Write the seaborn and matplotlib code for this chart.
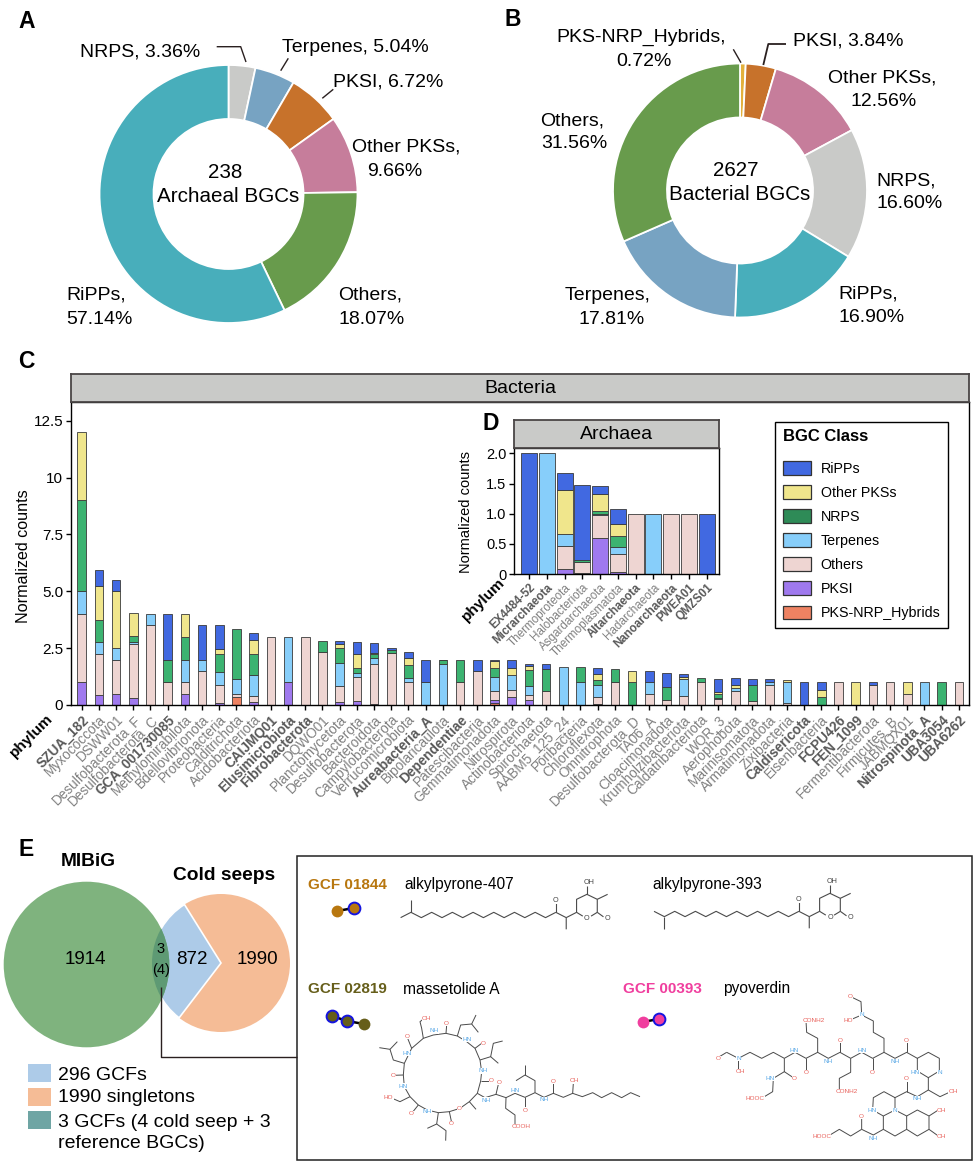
import numpy as np
import pandas as pd
import matplotlib
matplotlib.use("Agg")
import matplotlib.pyplot as plt
import seaborn as sns
from matplotlib.patches import Circle, Patch, Rectangle, Wedge

W, H = 973, 1169

# panel A / B donuts
a_classes = ["NRPS", "Terpenes", "PKSI", "Other PKSs", "Others", "RiPPs"]
a_shares = [3.36, 5.04, 6.72, 9.66, 18.07, 57.14]
b_classes = ["PKS-NRP_Hybrids", "PKSI", "Other PKSs", "NRPS", "RiPPs", "Terpenes", "Others"]
b_shares = [0.72, 3.84, 12.56, 16.60, 16.90, 17.81, 31.56]
donut_colors = {"NRPS": "#C9CAC8", "Terpenes": "#77A3C2", "PKSI": "#C7722B", "Other PKSs": "#C67D9B",
                "Others": "#689B4C", "RiPPs": "#48AEBB", "PKS-NRP_Hybrids": "#E3B13C"}

# panel C
bac_phyla = ["SZUA_182", "Myxococcota", "DSWW01", "Desulfobacterota_F", "Desulfobacterota_C", "GCA_001730085",
             "Methylomirabilota", "Bdellovibrionota", "Proteobacteria", "Calditrichota", "Acidobacteriota",
             "CAIJMQ01", "Elusimicrobiota", "Fibrobacterota", "DQWO01", "Planctomycetota", "Desulfobacterota",
             "Bacteroidota", "Campylobacterota", "Verrucomicrobiota", "Aureabacteria_A", "Bipolaricaulota",
             "Dependentiae", "Patescibacteria", "Gemmatimonadota", "Nitrospirota", "Actinobacteriota",
             "Spirochaetota", "AABM5_125_24", "Poribacteria", "Chloroflexota", "Omnitrophota",
             "Desulfobacterota_D", "TA06_A", "Cloacimonadota", "Krumholzibacteriota", "Caldatribacteriota",
             "WOR_3", "Aerophobota", "Marinisomatota", "Armatimonadota", "Zixibacteria", "Caldisericota",
             "Eisenbacteria", "FCPU426", "FEN_1099", "Fermentibacterota", "Firmicutes_B", "JABMQX01",
             "Nitrospinota_A", "UBA3054", "UBA6262"]
bac_bold = ["SZUA_182", "GCA_001730085", "CAIJMQ01", "Elusimicrobiota", "Fibrobacterota", "Aureabacteria_A",
            "Dependentiae", "Caldisericota", "FCPU426", "FEN_1099", "Nitrospinota_A", "UBA3054", "UBA6262"]
bac_ripps = [0, .7, .5, 0, 0, 2, 0, 1.5, 1.05, 0, .33, 0, 0, 0, 0, .13, .55, .45, .08, .25, 1, .03, 0, .5, .07, .33,
             .1, .22, 0, 0, .27, 0, 0, .5, .6, .13, 0, .6, .3, .3, .1, 0, 1, .35, 0, 0, .14, 0, 0, 0, 0, 0]
bac_other_pkss = [3, 1.5, 2.5, 1, 0, 0, 1, 0, .2, 0, .6, 0, 0, 0, 0, .2, .6, .06, .03, .33, 0, 0, 0, 0, .3, .33,
                  .15, 0, 0, 0, .27, 0, .5, 0, 0, .1, 0, .07, .15, 0, 0, .08, 0, .32, 0, 1, 0, 0, .5, 0, 0, 0]
bac_nrps = [4, 1, 0, .3, 0, 1, 1, 0, .8, 2.2, .93, 0, 0, 0, .5, .67, .25, .15, .1, .55, 0, .17, 1, 0, .4, 0,
            .72, 1, 0, .67, .23, .6, 1, 0, .6, 0, .2, .17, 0, .7, 0, 0, 0, .33, 0, 0, 0, 0, 0, 0, 1, 0]
bac_terpenes = [1, .5, .5, .05, .5, 0, 1, .5, .55, .67, .92, 0, 2, 0, 0, 1, .17, .28, 0, .2, 1, 1.8, 0, 0, .6, .65,
                .4, 0, 1.67, 1, .5, 0, 0, .5, 0, .75, 0, .06, .13, 0, .13, .92, 0, 0, 0, 0, 0, 0, 0, 1, 0, 0]
bac_others = [3, 1.8, 1.5, 2.4, 3.5, 1, .5, 1.5, .82, .15, .27, 3, 0, 3, 2.33, .7, 1.05, 1.76, 2.3, 1, 0, 0, 1, 1.5,
              .4, .33, .2, .6, 0, 0, .3, 1, 0, .5, .2, .4, 1, .25, .6, .16, .9, .1, 0, 0, 1, 0, .86, 1, .5, 0, 0, 1]
bac_pksi = [1, .45, .5, .3, 0, 0, .5, 0, .08, 0, .13, 0, 1, 0, 0, .13, .17, .04, 0, 0, 0, 0, 0, 0, .15, .33,
            .23, 0, 0, 0, .06, 0, 0, 0, 0, 0, 0, 0, 0, 0, 0, 0, 0, 0, 0, 0, 0, 0, 0, 0, 0, 0]
bac_hybrids = [0, 0, 0, 0, 0, 0, 0, 0, 0, .33, 0, 0, 0, 0, 0, 0, 0, 0, 0, 0, 0, 0, 0, 0, .08, 0,
               0, 0, 0, 0, 0, 0, 0, 0, 0, 0, 0, 0, 0, 0, 0, 0, 0, 0, 0, 0, 0, 0, 0, 0, 0, 0]

# panel D
arc_phyla = ["EX4484-52", "Micrarchaeota", "Thermoproteota", "Halobacteriota", "Asgardarchaeota",
             "Thermoplasmatota", "Altarchaeota", "Hadarchaeota", "Nanoarchaeota", "PWEA01", "QMZS01"]
arc_bold = ["EX4484-52", "Micrarchaeota", "Altarchaeota", "Nanoarchaeota", "PWEA01", "QMZS01"]
arc_ripps = [2, 0, .27, 1.25, .14, .25, 0, 0, 0, 0, 1]
arc_other_pkss = [0, 0, .73, 0, .28, .2, 0, 0, 0, 0, 0]
arc_nrps = [0, 0, 0, .03, .04, .19, 0, 0, 0, 0, 0]
arc_terpenes = [0, 2, .21, 0, .02, .1, 0, 1, 0, 0, 0]
arc_others = [0, 0, .38, .19, .38, .3, 1, 0, 1, 1, 0]
arc_pksi = [0, 0, .08, .01, .6, .04, 0, 0, 0, 0, 0]
arc_hybrids = [0, 0, 0, 0, 0, 0, 0, 0, 0, 0, 0]

class_order = ["RiPPs", "Other PKSs", "NRPS", "Terpenes", "Others", "PKSI", "PKS-NRP_Hybrids"]
bar_colors = {"RiPPs": "#4169E1", "Other PKSs": "#F0E68C", "NRPS": "#3CB371", "Terpenes": "#87CEFA",
              "Others": "#EED5D2", "PKSI": "#9F79EE", "PKS-NRP_Hybrids": "#EE8262"}
legend_colors = dict(bar_colors, NRPS="#2E8B57")

# panel E
venn_numbers = ["1914", "872", "1990", "3", "(4)"]
gcf_legend = ["296 GCFs", "1990 singletons", "3 GCFs (4 cold seep + 3\nreference BGCs)"]

sns.set_theme(style="ticks")
plt.rcParams["font.family"] = ["Liberation Sans", "DejaVu Sans"]
plt.rcParams["axes.linewidth"] = 1.0
plt.rcParams["text.color"] = "black"
plt.rcParams["axes.labelcolor"] = "black"
plt.rcParams["xtick.color"] = "black"
plt.rcParams["ytick.color"] = "black"

fig = plt.figure(figsize=(W / 100, H / 100), dpi=100)


def px_axes(left, top, right, bottom, **kw):
    return fig.add_axes([left / W, 1 - bottom / H, (right - left) / W, (bottom - top) / H], **kw)


def donut(cx, cy, r, hole, classes, shares):
    ax = px_axes(cx - r, cy - r, cx + r, cy + r)
    ax.pie(shares, colors=[donut_colors[c] for c in classes], startangle=90, counterclock=False, radius=1,
           normalize=True, wedgeprops={"width": 1 - hole / r, "edgecolor": "white", "linewidth": 1.3})
    ax.set_xlim(-1, 1)
    ax.set_ylim(-1, 1)


def stacked(ax, phyla, bold, columns, shrink, xlim, ymax, yticks, yticklabels, ysize, xsize):
    table = pd.DataFrame(columns)
    table.insert(0, "phylum", phyla)
    long_df = table.melt(id_vars="phylum", var_name="bgc", value_name="value")
    sns.histplot(data=long_df, x="phylum", weights="value", hue="bgc", hue_order=class_order, multiple="stack",
                 discrete=True, shrink=shrink, palette=bar_colors, alpha=1, edgecolor="#3a3a3a", linewidth=0.6,
                 legend=False, ax=ax)
    for p in list(ax.patches):
        if p.get_height() <= 0:
            p.remove()
    ax.set_xlim(*xlim)
    ax.set_ylim(0, ymax)
    ax.set_yticks(yticks)
    ax.set_yticklabels(yticklabels, fontsize=ysize)
    ax.set_xticks(range(len(phyla)))
    ax.set_xticklabels(phyla, rotation=45, ha="right", rotation_mode="anchor", fontsize=xsize, color="#808080")
    for lab, name in zip(ax.get_xticklabels(), phyla):
        if name in bold:
            lab.set_fontweight("bold")
            lab.set_color("#595959")
    ax.tick_params(axis="both", length=3.5, width=1, color="black", pad=2)
    ax.set_xlabel("")
    for s in ax.spines.values():
        s.set_visible(True)
        s.set_color("black")
        s.set_linewidth(1.0)


def strip(left, top, right, bottom, title):
    ax = px_axes(left, top, right, bottom, facecolor="#C9CAC8")
    ax.set_xticks([])
    ax.set_yticks([])
    for s in ax.spines.values():
        s.set_color("#4a4646")
        s.set_linewidth(1.3)
    ax.text(0.5, 0.47, title, transform=ax.transAxes, ha="center", va="center", fontsize=14)


donut(228.5, 194, 129, 75, a_classes, a_shares)
donut(740, 190.5, 127, 73, b_classes, b_shares)

ax_c = px_axes(71, 402, 969, 705)
stacked(ax_c, bac_phyla, bac_bold,
        {"RiPPs": bac_ripps, "Other PKSs": bac_other_pkss, "NRPS": bac_nrps, "Terpenes": bac_terpenes,
         "Others": bac_others, "PKSI": bac_pksi, "PKS-NRP_Hybrids": bac_hybrids},
        0.5, (-0.62, 51.59), 13.32, [0, 2.5, 5, 7.5, 10, 12.5], ["0", "2.5", "5.0", "7.5", "10", "12.5"], 11, 9.8)
ax_c.set_ylabel("Normalized counts", fontsize=11.6)
ax_c.yaxis.set_label_coords((31 - 71) / 898, (705 - 556) / 303)
strip(71, 374, 969, 402, "Bacteria")

ax_d = px_axes(514, 448, 719, 574)
stacked(ax_d, arc_phyla, arc_bold,
        {"RiPPs": arc_ripps, "Other PKSs": arc_other_pkss, "NRPS": arc_nrps, "Terpenes": arc_terpenes,
         "Others": arc_others, "PKSI": arc_pksi, "PKS-NRP_Hybrids": arc_hybrids},
        0.9, (-0.85, 10.7), 2.09, [0, 0.5, 1, 1.5, 2], ["0", "0.5", "1.0", "1.5", "2.0"], 10.5, 8.4)
ax_d.set_ylabel("Normalized counts", fontsize=10.5)
ax_d.yaxis.set_label_coords((473 - 514) / 205, (574 - 512) / 126)
strip(514, 420, 719, 448, "Archaea")

handles = [Patch(facecolor=legend_colors[c], edgecolor="#333333", linewidth=0.9, label=c) for c in class_order]
leg = fig.legend(handles=handles, title="BGC Class", loc="upper left", bbox_to_anchor=(775 / W, 1 - 421.5 / H),
                 borderaxespad=0, fontsize=10.3, frameon=True, fancybox=False, edgecolor="black", facecolor="white",
                 framealpha=1, handlelength=2.0, handleheight=1.08, labelspacing=0.66, handletextpad=0.65,
                 borderpad=0.55, alignment="left", title_fontproperties={"weight": "bold", "size": 12})
leg.get_frame().set_linewidth(1.0)
leg._legend_box.sep = 12

# everything placed by hand goes on one overlay in image pixels
ov = fig.add_axes([0, 0, 1, 1], facecolor="none")
ov.set_xlim(0, W)
ov.set_ylim(H, 0)
ov.axis("off")


def put(x, y, s, size=14, ha="left", va="center", **kw):
    ov.text(x, y, s, fontsize=size, ha=ha, va=va, **kw)


def line(xs, ys, color="#2a2020", lw=1.0, **kw):
    ov.plot(xs, ys, color=color, lw=lw, solid_capstyle="butt", **kw)


for x, y, s in [(18, 21, "A"), (504, 20, "B"), (18, 362, "C"), (483, 423, "D"), (18, 850, "E")]:
    put(x, y, s, size=16.5, fontweight="bold")

for x, y, s in [(51, 716, "phylum"), (503, 580, "phylum")]:
    ov.text(x, y, s, fontsize=11, fontweight="bold", rotation=45, ha="right", va="center", rotation_mode="anchor")

for x, y, s in [(80, 51.6, "NRPS, 3.36%"), (281.7, 48, "Terpenes, 5.04%"), (333, 82, "PKSI, 6.72%"),
                (351.7, 147, "Other PKSs,"), (366.7, 172, "9.66%"), (66, 295, "RiPPs,"), (66, 319, "57.14%"),
                (338, 295, "Others,"), (338.5, 319, "18.07%"),
                (556, 37, "PKS-NRP_Hybrids,"), (616.7, 61, "0.72%"), (792.7, 40.7, "PKSI, 3.84%"),
                (828, 78, "Other PKSs,"), (850.7, 101, "12.56%"), (876.7, 181, "NRPS,"), (876.7, 204, "16.60%"),
                (838, 294, "RiPPs,"), (838, 317, "16.90%"), (565, 295, "Terpenes,"), (578, 319, "17.81%"),
                (540, 121, "Others,"), (541.7, 144, "31.56%")]:
    put(x, y, s)
for x, y, s in [(225, 172, "238"), (228, 197, "Archaeal BGCs"), (736, 171, "2627"), (740, 195, "Bacterial BGCs")]:
    put(x, y, s, size=14.9, ha="center")

line([216.7, 240.7, 246], [46.7, 46.7, 62])
line([288.3, 280.7], [58.3, 70.7])
line([333.3, 322.3], [89.3, 98.3])
line([733.3, 741], [49.3, 62.7], lw=1.0)
line([786, 768.3, 763.3], [44, 44, 65], lw=1.3)

# venn
cold = (221, 963, 69)
mibig = (86.5, 964.5, 82.8)
ov.add_patch(Circle(cold[:2], cold[2], facecolor="#F5BC96", edgecolor="none"))
ov.add_patch(Wedge(cold[:2], cold[2], 180 - 52.6, 180 + 58, facecolor="#ADCBE8", edgecolor="white", linewidth=1.2))
mibig_patch = Circle(mibig[:2], mibig[2], facecolor="#7FB37E", edgecolor="none")
ov.add_patch(mibig_patch)
lens = Circle(cold[:2], cold[2], facecolor="#5E9A74", edgecolor="none")
ov.add_patch(lens)
lens.set_clip_path(mibig_patch)
for (x, y), s, size in zip([(85, 959), (192, 959), (257, 960), (160.7, 949), (160.7, 970)], venn_numbers,
                           [13.5, 13.5, 13.5, 10.5, 10.5]):
    put(x, y, s, size=size, ha="center")
put(88, 861, "MIBiG", size=13.8, ha="center", fontweight="bold")
put(224, 875, "Cold seeps", size=13.8, ha="center", fontweight="bold")
line([160.7, 160.7, 297], [987, 1057, 1057], lw=1.0)

for y0, c in zip([1064, 1088, 1111], ["#ADCBE8", "#F5BC96", "#6FA5A4"]):
    ov.add_patch(Rectangle((28, y0), 23, 17.5, facecolor=c, edgecolor="none"))
put(58, 1075, gcf_legend[0], size=14)
put(58, 1098, gcf_legend[1], size=14)
put(58, 1133, gcf_legend[2], size=14, linespacing=1.35)

# structures box
ov.add_patch(Rectangle((297, 856), 675, 304, facecolor="none", edgecolor="#222222", linewidth=1.1))
for x, y, s, c in [(308, 885, "GCF 01844", "#B8770F"), (308, 989, "GCF 02819", "#665E1A"),
                   (623, 989, "GCF 00393", "#F03E9E")]:
    put(x, y, s, size=11, color=c, fontweight="bold")
for x, y, s in [(404, 885, "alkylpyrone-407"), (652, 885, "alkylpyrone-393"), (403, 989, "massetolide A"),
                (723, 989, "pyoverdin")]:
    put(x, y, s, size=11.2)


def gcf_nodes(xs, ys, color, ringed):
    line(xs, ys, color="black", lw=1.8)
    for x, y, r in zip(xs, ys, ringed):
        ov.plot(x, y, "o", ms=8.5, mfc=color, mec="#1414e0" if r else color, mew=1.4 if r else 0)


gcf_nodes([337, 354], [911, 908], "#B8770F", [False, True])
gcf_nodes([332, 347, 364], [1016, 1021, 1024], "#665E1A", [True, True, False])
gcf_nodes([643, 658.5], [1022, 1019], "#F03E9E", [False, True])


def bonds(x0, y0, scale, paths, lw=0.7):
    for p in paths:
        p = np.array(p, dtype=float)
        line(x0 + p[:, 0] * scale, y0 + p[:, 1] * scale, color="#4a4a4a", lw=lw)


def atoms(x0, y0, scale, labels, size=4.6):
    for x, y, s, c in labels:
        ov.text(x0 + x * scale, y0 + y * scale, s, fontsize=size, color=c, ha="center", va="center",
                bbox={"facecolor": "white", "edgecolor": "none", "pad": 0.2})


RED = "#E8605A"
BLUE = "#5AA9E6"
GREY = "#444444"


def alkylpyrone(x0, y0, n, branch_down):
    # zigzag tail ending at the ketone carbon, drawn back from the pyrone
    step = 10.35
    xs = [-step * k for k in range(n)][::-1]
    ys = [0 if (n - 1 - k) % 2 == 0 else 5.3 for k in range(n)]
    pts = list(zip(xs, ys))
    bx, by = pts[1]
    tip = by + 12 if branch_down else by - 12
    paths = [pts, [(bx, by), (bx, tip)], [(0, 0), (0, -9)], [(0, 0), (step, 5.3), (step, 17)],
             [(step, 5.3), (2 * step, 0), (2 * step, -13), (3 * step, -18), (4 * step, -13), (4 * step, 0),
              (3.4 * step, 3.8)], [(2 * step, 0), (2.6 * step, 3.8)], [(4 * step, 0), (4.6 * step, 4.5)],
             [(4 * step, -13), (5 * step, -18)], [(3 * step, -18), (3 * step, -26)]]
    bonds(x0, y0, 1, paths, lw=0.8)
    atoms(x0, y0, 1, [(0, -12, "O", GREY), (3 * step, 6, "O", GREY), (5 * step, 6, "O", GREY),
                      (3.2 * step, -30, "OH", GREY)], size=5.2)


alkylpyrone(295 + 600 / 2.3, 850 + 187 / 3, 16, False)
alkylpyrone(295 + 1159 / 2.3, 850 + 184 / 3, 15, True)

massetolide = [
    [(160, 115), (190, 105), (228, 100), (262, 108), (290, 125), (315, 145), (330, 180), (335, 215), (332, 243),
     (322, 280), (298, 305), (270, 325), (238, 335), (205, 338), (172, 330), (145, 315), (120, 290), (103, 260),
     (100, 225), (103, 190), (125, 145), (160, 115)],
    [(160, 115), (155, 85), (150, 65), (163, 55)], [(125, 145), (113, 115)],
    [(262, 108), (272, 75), (305, 72), (318, 45)], [(305, 72), (325, 97)], [(228, 100), (230, 75)],
    [(315, 145), (335, 130)], [(330, 180), (362, 170), (370, 130), (398, 123)], [(362, 170), (385, 190)],
    [(332, 243), (360, 243)],
    [(322, 280), (345, 293), (378, 283), (408, 293), (435, 280), (465, 292), (495, 278), (522, 292), (550, 280),
     (580, 292), (608, 280), (637, 290), (668, 278), (695, 293), (725, 278), (755, 293), (782, 278), (810, 290)],
    [(378, 283), (385, 253)], [(408, 293), (407, 325), (435, 345), (435, 375)], [(465, 292), (465, 322)],
    [(495, 278), (495, 242), (465, 225), (438, 242)], [(465, 225), (465, 195)], [(550, 280), (550, 250)],
    [(608, 280), (610, 250)], [(298, 305), (318, 328)], [(103, 190), (70, 180), (60, 148), (28, 143)],
    [(60, 148), (82, 125)], [(100, 225), (70, 226)], [(120, 290), (90, 305), (62, 293)], [(145, 315), (125, 340)],
    [(205, 338), (200, 372), (172, 385)], [(200, 372), (228, 392), (227, 422)], [(238, 335), (245, 368)]]
massetolide_atoms = [
    (170, 55, "OH", RED), (193, 93, "NH", BLUE), (110, 160, "HN", BLUE), (113, 110, "O", RED), (230, 70, "O", RED),
    (290, 118, "HN", BLUE), (340, 130, "O", RED), (340, 213, "NH", BLUE), (364, 243, "O", RED),
    (70, 226, "O", RED), (100, 258, "HN", BLUE), (56, 293, "HO", RED), (124, 340, "O", RED), (172, 335, "NH", BLUE),
    (245, 370, "O", RED), (268, 325, "O", RED), (348, 300, "NH", BLUE), (387, 247, "O", RED), (435, 272, "HN", BLUE),
    (465, 330, "O", RED), (452, 380, "COOH", RED), (522, 298, "NH", BLUE), (551, 244, "O", RED), (614, 243, "OH", RED)]
bonds(370, 1000, 1 / 3, massetolide)
atoms(370, 1000, 1 / 3, massetolide_atoms)

pyoverdin = [
    [(65, 172), (100, 190), (135, 172), (170, 190), (205, 172), (238, 190), (270, 172), (303, 190), (338, 172),
     (370, 190), (405, 172), (437, 190), (470, 172), (503, 190), (537, 172), (570, 190), (605, 172), (637, 190)],
    [(65, 172), (35, 190)], [(100, 190), (100, 225)], [(238, 190), (238, 230), (268, 250)],
    [(238, 230), (205, 250), (203, 290), (170, 310)], [(303, 190), (303, 230)],
    [(338, 172), (338, 130), (305, 112), (303, 78)], [(405, 172), (405, 130)],
    [(437, 190), (437, 232), (403, 250), (403, 290)], [(503, 190), (503, 230)],
    [(537, 172), (537, 130), (505, 112), (505, 78), (470, 60)], [(470, 60), (468, 20), (437, 5)],
    [(470, 60), (435, 75)], [(605, 172), (605, 130)],
    [(637, 190), (670, 172), (703, 190), (703, 228), (670, 248), (637, 228), (637, 190)],
    [(670, 248), (670, 285), (705, 305), (737, 290)], [(670, 285), (637, 305), (605, 290), (570, 308)],
    [(605, 290), (605, 250)],
    [(570, 308), (537, 290), (505, 308), (503, 345), (535, 363), (570, 345), (570, 308)],
    [(535, 363), (535, 403), (570, 423), (605, 403), (605, 363), (570, 345)],
    [(605, 363), (637, 345), (672, 363), (672, 403), (637, 423), (605, 403)],
    [(672, 363), (700, 345)], [(672, 403), (700, 423)], [(535, 403), (505, 420), (470, 403), (470, 365)],
    [(470, 403), (437, 423), (403, 403), (370, 423)]]
pyoverdin_atoms = [
    (40, 190, "O", RED), (100, 190, "N", BLUE), (108, 230, "OH", RED), (268, 250, "O", RED), (195, 250, "HN", BLUE),
    (150, 310, "HOOC", RED), (268, 165, "HN", BLUE), (303, 232, "O", RED), (325, 75, "CONH2", RED),
    (370, 200, "NH", BLUE), (405, 135, "O", RED), (425, 290, "CONH2", RED), (470, 165, "HN", BLUE),
    (503, 232, "O", RED), (470, 60, "N", BLUE), (437, 5, "O", RED), (430, 75, "HO", RED), (570, 200, "NH", BLUE),
    (605, 135, "O", RED), (630, 232, "HN", BLUE), (703, 232, "N", BLUE), (745, 290, "OH", RED),
    (637, 310, "NH", BLUE), (605, 252, "O", RED), (500, 345, "HN", BLUE), (570, 347, "N", BLUE),
    (710, 345, "OH", RED), (710, 423, "OH", RED), (470, 365, "O", RED), (503, 430, "NH", BLUE),
    (350, 423, "HOOC", RED)]
bonds(705, 995, 1 / 3, pyoverdin)
atoms(705, 995, 1 / 3, pyoverdin_atoms)

fig.savefig("out.png", dpi=100)
